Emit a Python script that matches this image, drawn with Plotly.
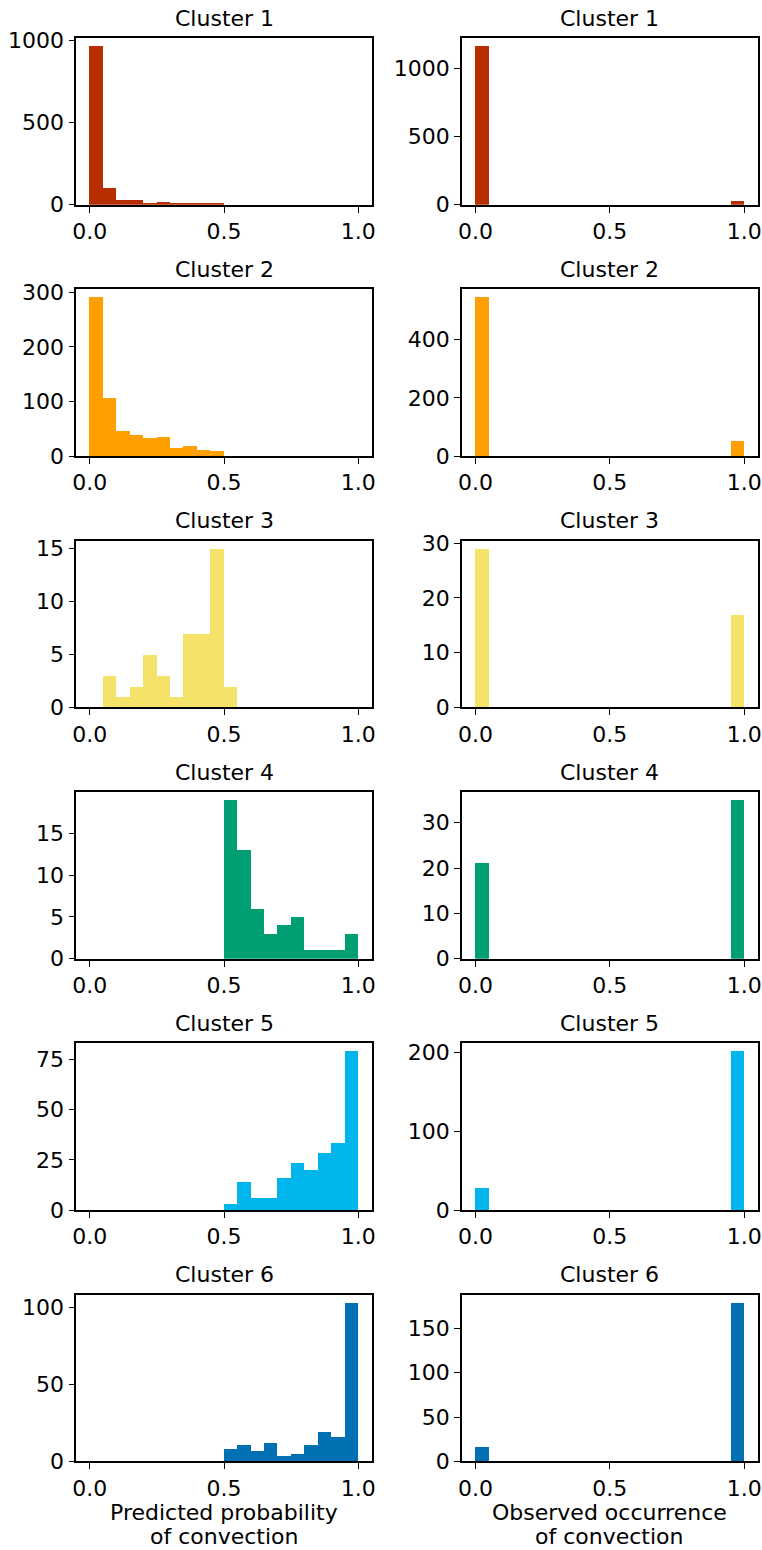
import plotly.graph_objects as go

# Histogram counts per cluster, 20 equal-width bins on [0, 1]
clusters = ["Cluster 1", "Cluster 2", "Cluster 3", "Cluster 4", "Cluster 5", "Cluster 6"]
colors = ["#B82E00", "#FFA000", "#F4E368", "#009E73", "#00B4EC", "#0070B2"]

pred_c1 = [968, 100, 27, 29, 10, 18, 8, 8, 5, 10, 0, 0, 0, 0, 0, 0, 0, 0, 0, 0]
pred_c2 = [291, 105, 46, 38, 33, 34, 14, 17, 10, 8, 0, 0, 0, 0, 0, 0, 0, 0, 0, 0]
pred_c3 = [0, 3, 1, 2, 5, 3, 1, 7, 7, 15, 2, 0, 0, 0, 0, 0, 0, 0, 0, 0]
pred_c4 = [0, 0, 0, 0, 0, 0, 0, 0, 0, 0, 19, 13, 6, 3, 4, 5, 1, 1, 1, 3]
pred_c5 = [0, 0, 0, 0, 0, 0, 0, 0, 0, 0, 3, 14, 6, 6, 16, 23, 20, 28, 33, 79]
pred_c6 = [0, 0, 0, 0, 0, 0, 0, 0, 0, 0, 8, 11, 7, 12, 4, 5, 11, 19, 16, 103]
predicted = [pred_c1, pred_c2, pred_c3, pred_c4, pred_c5, pred_c6]

# Observed occurrence: counts of 0 (no convection) and 1 (convection)
obs_no = [1165, 546, 29, 21, 27, 17]
obs_yes = [28, 49, 17, 35, 201, 179]

pred_dtick = [500, 100, 5, 5, 25, 50]
obs_dtick = [500, 200, 10, 10, 100, 50]

n_bins = 20
bin_w = 1.0 / n_bins
bin_centers = [(i + 0.5) * bin_w for i in range(n_bins)]

W, H = 762, 1550
FONT = "DejaVu Sans"
FS = 22

col_x = [(76.3, 371.7), (462.0, 757.7)]
row_top0, row_pitch, ax_h = 38.0, 251.35, 166.7

fig = go.Figure()
annotations = []

for r in range(6):
    top = row_top0 + r * row_pitch
    bot = top + ax_h
    ydom = [1 - bot / H, 1 - top / H]
    for c in range(2):
        idx = r * 2 + c + 1
        xa = "x" if idx == 1 else f"x{idx}"
        ya = "y" if idx == 1 else f"y{idx}"
        if c == 0:
            xs = bin_centers
            ys = predicted[r]
            dt = pred_dtick[r]
        else:
            xs = [bin_centers[0], bin_centers[-1]]
            ys = [obs_no[r], obs_yes[r]]
            dt = obs_dtick[r]
        fig.add_trace(go.Bar(
            x=xs, y=ys, width=bin_w, xaxis=xa, yaxis=ya,
            marker=dict(color=colors[r], line=dict(width=0)),
            showlegend=False, hoverinfo="x+y",
        ))
        axis_common = dict(
            showline=True, linecolor="black", linewidth=1.6, mirror=True,
            ticks="outside", ticklen=6, tickwidth=1.4, tickcolor="black",
            showgrid=False, zeroline=False, automargin=False,
            tickfont=dict(family=FONT, size=FS, color="black"),
        )
        fig.layout[("xaxis" if idx == 1 else f"xaxis{idx}")] = dict(
            domain=[col_x[c][0] / W, col_x[c][1] / W],
            anchor=ya, range=[-0.05, 1.05],
            tickvals=[0, 0.5, 1.0], ticktext=["0.0", "0.5", "1.0"],
            **axis_common,
        )
        fig.layout[("yaxis" if idx == 1 else f"yaxis{idx}")] = dict(
            domain=ydom, anchor=xa, range=[0, max(ys) * 1.05],
            tick0=0, dtick=dt,
            **axis_common,
        )
        annotations.append(dict(
            text=clusters[r], xref="paper", yref="paper",
            x=(col_x[c][0] + col_x[c][1]) / 2 / W, y=1 - top / H,
            xanchor="center", yanchor="middle", yshift=20, showarrow=False,
            font=dict(family=FONT, size=FS, color="black"),
        ))

# Column axis titles under the bottom row
bottom_y = 1 - (row_top0 + 5 * row_pitch + ax_h) / H
titles = [["Predicted probability", "of convection"],
          ["Observed occurrence", "of convection"]]
for c in range(2):
    for k, line in enumerate(titles[c]):
        annotations.append(dict(
            text=line, xref="paper", yref="paper",
            x=(col_x[c][0] + col_x[c][1]) / 2 / W, y=bottom_y,
            xanchor="center", yanchor="middle", yshift=-(51 + 24 * k),
            showarrow=False, font=dict(family=FONT, size=FS, color="black"),
        ))

fig.update_layout(
    width=W, height=H, margin=dict(l=0, r=0, t=0, b=0, autoexpand=False),
    paper_bgcolor="white", plot_bgcolor="white",
    bargap=0, annotations=annotations,
    font=dict(family=FONT, size=FS, color="black"),
)

fig.write_html("out.html")
